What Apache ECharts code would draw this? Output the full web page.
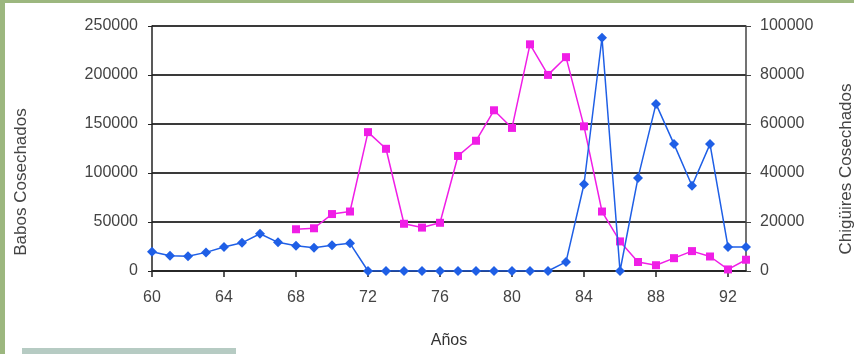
<!DOCTYPE html>
<html>
<head>
<meta charset="utf-8">
<script src="https://cdn.jsdelivr.net/npm/echarts@6/dist/echarts.min.js"></script>
<style>
html,body{margin:0;padding:0;background:#fff;overflow:hidden;}
#c{width:854px;height:354px;}
</style>
</head>
<body>
<div id="c"></div>
<script>
const years = ['60','61','62','63','64','65','66','67','68','69','70','71','72','73','74','75','76','77','78','79','80','81','82','83','84','85','86','87','88','89','90','91','92','93'];
// Chigüires (right axis), blue diamonds
const chiguires = [7900,6200,6000,7600,9800,11500,15200,11700,10300,9500,10500,11300,0,0,0,0,0,0,0,0,0,0,0,3700,35400,95200,0,38000,68200,51800,34800,51800,9800,9800];
// Babos (left axis), magenta squares
const babos = [null,null,null,null,null,null,null,null,42600,43600,58100,60700,141700,124700,48200,44300,49200,117400,132900,164000,146000,231300,200100,218200,147600,60700,30200,9200,5900,13100,20300,14800,1600,11500];
const leftTitle = 'Babos Cosechados';
const rightTitle = 'Chigüires Cosechados';
const xTitle = 'Años';

const font = 'Liberation Sans, Arial, Helvetica, sans-serif';
const plain = v => String(v);
const chart = echarts.init(document.getElementById('c'), null, {renderer:'canvas', width:854, height:354});
chart.setOption({
  backgroundColor:'#ffffff',
  animation:false,
  grid:{left:152, right:108, top:26, bottom:74, containLabel:false},
  xAxis:{
    type:'category', data:years, boundaryGap:false,
    name:xTitle, nameLocation:'middle', nameGap:62,
    nameTextStyle:{fontFamily:font, fontSize:16, color:'#333'},
    axisLine:{lineStyle:{color:'#222', width:1.5}},
    axisTick:{interval:3, length:6, inside:false, lineStyle:{color:'#222', width:1.5}},
    axisLabel:{interval:3, margin:19, fontFamily:font, fontSize:16, color:'#444'},
    splitLine:{show:false}
  },
  yAxis:[
    {
      type:'value', min:0, max:250000, interval:50000, position:'left',
      axisLine:{show:true, lineStyle:{color:'#222', width:1.5}},
      axisTick:{show:true, length:4, lineStyle:{color:'#222'}},
      axisLabel:{margin:14, formatter:plain, fontFamily:font, fontSize:16, color:'#444'},
      splitLine:{show:true, lineStyle:{color:'#3a3a3a', width:2}}
    },
    {
      type:'value', min:0, max:100000, interval:20000, position:'right',
      axisLine:{show:true, lineStyle:{color:'#444', width:1.5}},
      axisTick:{show:true, length:5, lineStyle:{color:'#444'}},
      axisLabel:{margin:14, formatter:plain, fontFamily:font, fontSize:16, color:'#444'},
      splitLine:{show:false}
    }
  ],
  series:[
    {
      type:'line', yAxisIndex:0, data:babos, connectNulls:false,
      symbol:'rect', symbolSize:8, showAllSymbol:true,
      lineStyle:{color:'#f01ee6', width:1.5},
      itemStyle:{color:'#f01ee6'}, z:2
    },
    {
      type:'line', yAxisIndex:1, data:chiguires,
      symbol:'diamond', symbolSize:10, showAllSymbol:true,
      lineStyle:{color:'#1f5fe6', width:1.5},
      itemStyle:{color:'#1f5fe6'}, z:3
    }
  ],
  graphic:[
    {type:'rect', left:0, top:0, shape:{width:5, height:354}, style:{fill:'#9cb77f'}, silent:true},
    {type:'rect', left:0, top:0, shape:{width:854, height:3}, style:{fill:'#9cb77f'}, silent:true},
    {type:'rect', left:22, top:348, shape:{width:214, height:6}, style:{fill:'#b6cbc3'}, silent:true},
    {type:'text', x:21, y:182, rotation:Math.PI/2, style:{text:leftTitle, font:'17px '+font, fill:'#444', align:'center', verticalAlign:'middle'}, silent:true},
    {type:'text', x:846, y:169, rotation:Math.PI/2, style:{text:rightTitle, font:'17px '+font, fill:'#444', align:'center', verticalAlign:'middle'}, silent:true}
  ]
});
</script>
</body>
</html>
